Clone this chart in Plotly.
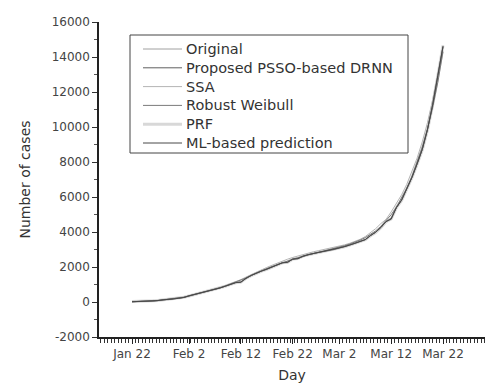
import pandas as pd
import plotly.graph_objects as go

# Daily cumulative counts, 22 Jan - 22 Mar 2020
start_date = "2020-01-22"
original = [17, 18, 26, 42, 56, 82, 131, 133, 171, 213,
            259, 362, 426, 492, 564, 634, 719, 806, 906, 1013,
            1113, 1118, 1371, 1523, 1666, 1770, 1868, 2007, 2122, 2247,
            2251, 2458, 2469, 2629, 2708, 2770, 2814, 2872, 2941,
            2996, 3085, 3160, 3254, 3348, 3460, 3558, 3802, 3988, 4262,
            4615, 4720, 5404, 5819, 6440, 7126, 7905, 8733, 9867, 11299,
            12973, 14651]
proposed_psso_drnn = [20, 22, 30, 45, 60, 85, 128, 140, 175, 215,
                      262, 355, 430, 495, 566, 636, 720, 805, 905, 1010,
                      1105, 1150, 1360, 1520, 1660, 1772, 1875, 2005, 2120, 2235,
                      2290, 2440, 2490, 2620, 2705, 2772, 2820, 2878, 2940,
                      3000, 3082, 3165, 3258, 3352, 3462, 3570, 3790, 3995, 4255,
                      4580, 4790, 5380, 5830, 6430, 7110, 7890, 8720, 9840, 11260,
                      12920, 14590]
ssa = [30, 35, 45, 60, 78, 100, 130, 160, 195, 235,
       285, 350, 425, 500, 580, 660, 745, 840, 940, 1045,
       1160, 1280, 1420, 1570, 1720, 1850, 1975, 2100, 2225, 2340,
       2445, 2545, 2635, 2720, 2800, 2870, 2935, 3000, 3060,
       3110, 3185, 3265, 3355, 3460, 3580, 3740, 3940, 4190, 4480,
       4720, 5150, 5600, 6120, 6720, 7420, 8220, 9150, 10250, 11550,
       13050, 14550]
robust_weibull = [10, 15, 25, 40, 58, 80, 110, 145, 180, 222,
                  270, 335, 410, 485, 565, 645, 730, 820, 915, 1020,
                  1130, 1240, 1375, 1515, 1655, 1785, 1905, 2025, 2140, 2250,
                  2350, 2445, 2535, 2620, 2700, 2775, 2845, 2915, 2985,
                  3055, 3135, 3220, 3315, 3420, 3540, 3680, 3850, 4060, 4320,
                  4630, 4990, 5420, 5920, 6500, 7180, 7960, 8860, 9900, 11120,
                  12560, 14300]
prf = [25, 28, 38, 50, 65, 90, 125, 150, 185, 225,
       270, 345, 420, 488, 560, 632, 715, 802, 900, 1005,
       1100, 1140, 1355, 1510, 1655, 1765, 1865, 2000, 2115, 2240,
       2270, 2450, 2480, 2625, 2700, 2765, 2815, 2870, 2935,
       2995, 3080, 3160, 3250, 3345, 3455, 3560, 3780, 3970, 4240,
       4590, 4750, 5390, 5800, 6420, 7100, 7870, 8700, 9820, 11250,
       12930, 14660]
ml_based = [15, 20, 28, 43, 58, 83, 126, 138, 172, 212,
            258, 352, 424, 490, 562, 632, 716, 804, 903, 1008,
            1108, 1128, 1365, 1518, 1662, 1768, 1870, 2003, 2118, 2242,
            2262, 2452, 2476, 2626, 2704, 2768, 2816, 2874, 2938,
            2998, 3083, 3162, 3256, 3350, 3461, 3562, 3795, 3982, 4255,
            4600, 4740, 5395, 5810, 6430, 7115, 7890, 8715, 9850, 11270,
            12940, 14610]

x_tick_dates = ["2020-01-22", "2020-02-02", "2020-02-12", "2020-02-22",
                "2020-03-02", "2020-03-12", "2020-03-22"]
x_tick_labels = ["Jan 22", "Feb 2", "Feb 12", "Feb 22", "Mar 2", "Mar 12", "Mar 22"]
y_tick_values = [-2000, 0, 2000, 4000, 6000, 8000, 10000, 12000, 14000, 16000]
y_tick_labels = ["-2000", "0", "2000", "4000", "6000", "8000",
                 "10000", "12000", "14000", "16000"]

# x is measured in days since the first observation
t0 = pd.Timestamp(start_date)
day_index = list(range(len(original)))
x_tick_pos = [(pd.Timestamp(d) - t0).days for d in x_tick_dates]

# name, values, colour, width (legend order)
series = [
    ("Original", original, "#a0a0a0", 1.0),
    ("Proposed PSSO-based DRNN", proposed_psso_drnn, "#606060", 1.0),
    ("SSA", ssa, "#b4b4b4", 1.0),
    ("Robust Weibull", robust_weibull, "#7a7a7a", 1.0),
    ("PRF", prf, "#d8d8d8", 3.0),
    ("ML-based prediction", ml_based, "#484848", 1.0),
]
# the wide light PRF band goes underneath the thin lines
draw_order = [4, 0, 2, 3, 1, 5]

W, H = 486, 383
M_L, M_R, M_T, M_B = 99, 1, 22, 46
plot_w, plot_h = W - M_L - M_R, H - M_T - M_B


def paper_x(px):
    return (px - M_L) / plot_w


def paper_y(py):
    return (H - M_B - py) / plot_h


fig = go.Figure()
for i in draw_order:
    name, vals, colour, width = series[i]
    fig.add_trace(go.Scatter(
        x=day_index, y=vals, mode="lines", name=name,
        line=dict(color=colour, width=width), showlegend=False,
    ))

# framed legend box with a line sample and label for each series
font_family = "DejaVu Sans, Arial, sans-serif"
box_l, box_r, box_t, box_b = 130, 408, 35, 153
row_top, row_step = 49, 18.8
shapes = [dict(type="rect", xref="paper", yref="paper",
               x0=paper_x(box_l), x1=paper_x(box_r),
               y0=paper_y(box_b), y1=paper_y(box_t),
               line=dict(color="#444444", width=1), fillcolor="rgba(0,0,0,0)")]
annotations = []
for k, (name, vals, colour, width) in enumerate(series):
    yy = paper_y(row_top + k * row_step)
    shapes.append(dict(type="line", xref="paper", yref="paper",
                       x0=paper_x(143), x1=paper_x(182), y0=yy, y1=yy,
                       line=dict(color=colour, width=width)))
    annotations.append(dict(xref="paper", yref="paper", x=paper_x(184), y=yy,
                            xanchor="left", yanchor="middle", showarrow=False,
                            text=name, font=dict(size=14.5, color="#333333")))

fig.update_layout(
    width=W, height=H,
    margin=dict(l=M_L, r=M_R, t=M_T, b=M_B),
    paper_bgcolor="white", plot_bgcolor="white",
    font=dict(family=font_family, color="#444444"),
    showlegend=False,
    shapes=shapes, annotations=annotations,
    xaxis=dict(
        range=[-6.37, 68.1],
        tickmode="linear", tick0=0, dtick=2 / 3, showticklabels=False,
        ticks="outside", ticklen=4, tickwidth=1, tickcolor="#333333",
        showline=True, linecolor="#222222", linewidth=1.5,
        showgrid=False, zeroline=False,
    ),
    xaxis2=dict(
        overlaying="x", matches="x", anchor="y", side="bottom",
        range=[-6.37, 68.1],
        tickmode="array", tickvals=x_tick_pos, ticktext=x_tick_labels,
        ticks="outside", ticklen=6, tickwidth=1, tickcolor="#222222",
        showline=False, showgrid=False, zeroline=False,
        tickfont=dict(size=12, color="#444444"),
        title=dict(text="Day", font=dict(size=14, color="#333333"), standoff=9),
    ),
    yaxis=dict(
        range=[-2000, 16000],
        tickmode="array", tickvals=y_tick_values, ticktext=y_tick_labels,
        ticks="outside", ticklen=5, tickwidth=1, tickcolor="#333333",
        minor=dict(ticks="outside", ticklen=3, tick0=0, dtick=1000,
                   tickcolor="#555555", showgrid=False),
        showline=True, linecolor="#222222", linewidth=1.5,
        showgrid=False, zeroline=False,
        tickfont=dict(size=12, color="#444444"),
        title=dict(text="Number of cases", font=dict(size=14, color="#333333"),
                   standoff=18),
    ),
)
# an invisible trace keeps the labelled overlay axis in the figure
fig.add_trace(go.Scatter(x=[day_index[0]], y=[original[0]], xaxis="x2",
                         mode="markers", marker=dict(opacity=0),
                         showlegend=False, hoverinfo="skip"))

fig.write_html("out.html")
